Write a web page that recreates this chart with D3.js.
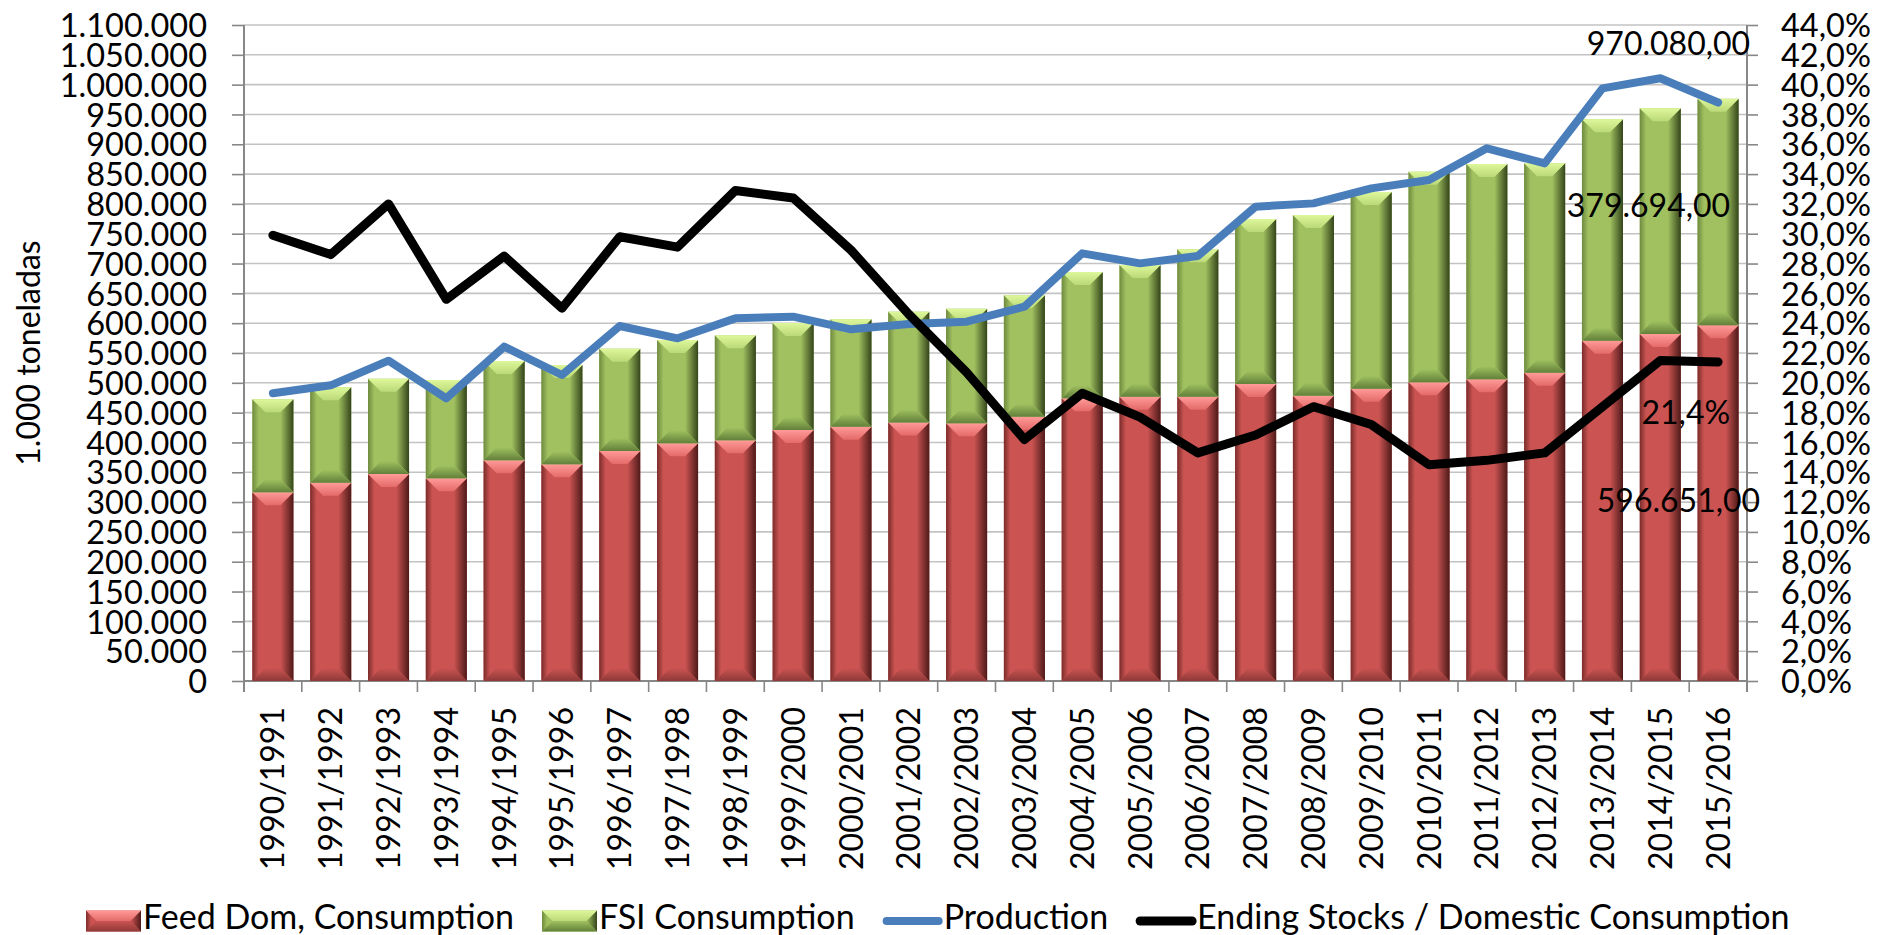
<!DOCTYPE html>
<html>
<head>
<meta charset="utf-8">
<script src="https://cdn.jsdelivr.net/npm/d3@7"></script>
<style>
body { margin: 0; background: #fff; }
svg { display: block; }
text { font-family: Lato, "Open Sans", sans-serif; fill: #000; }
</style>
</head>
<body>
<svg id="chart"></svg>
<script>
const W = 1878, H = 935

const categories = ["1990/1991", "1991/1992", "1992/1993", "1993/1994", "1994/1995", "1995/1996",
    "1996/1997", "1997/1998", "1998/1999", "1999/2000", "2000/2001", "2001/2002", "2002/2003",
    "2003/2004", "2004/2005", "2005/2006", "2006/2007", "2007/2008", "2008/2009", "2009/2010",
    "2010/2011", "2011/2012", "2012/2013", "2013/2014", "2014/2015", "2015/2016"]

// 1.000 toneladas
const feedDom = [316400, 332500, 347100, 339800, 370000, 363300, 385700, 398500, 403500, 420900,
    426500, 433500, 432100, 443200, 474000, 476800, 476800, 498000, 478400, 490200,
    501000, 505900, 517000, 570700, 581800, 596651]
const fsiCons = [156000, 160000, 159800, 164900, 166600, 166600, 171600, 173300, 176100, 179400,
    179900, 185800, 192200, 203500, 211800, 220700, 247000, 276700, 303000, 329800,
    353000, 361000, 351000, 371100, 378400, 379694]
const production = [482400, 495800, 537100, 474000, 560600, 513100, 595300, 574600, 608100, 610900,
    589700, 598600, 602500, 627600, 717100, 700300, 712600, 795400, 800900, 826100,
    840100, 893200, 868000, 993800, 1010600, 970080]
// ending stocks / domestic consumption
const stocksRatio = [0.299, 0.286, 0.320, 0.256, 0.285, 0.250, 0.298, 0.291, 0.329, 0.324,
    0.289, 0.246, 0.207, 0.162, 0.193, 0.177, 0.153, 0.165, 0.184, 0.172,
    0.145, 0.148, 0.153, 0.184, 0.215, 0.214]

const legendNames = ["Feed Dom, Consumption", "FSI Consumption", "Production", "Ending Stocks / Domestic Consumption"]

const margin = {left: 244, right: 131, top: 25, bottom: 254}

const loc = d3.formatLocale({decimal: ",", thousands: ".", grouping: [3], currency: ["", ""]})
const fmtInt = loc.format(",.0f")
const fmtDec = loc.format(",.2f")
const fmtPct = loc.format(".1%")

const svg = d3.select("#chart").attr("width", W).attr("height", H)
svg.append("rect").attr("width", W).attr("height", H).attr("fill", "#fff")

const x0 = margin.left, x1 = W - margin.right
const yTop = margin.top, yBot = H - margin.bottom

const x = d3.scaleBand().domain(categories).range([x0, x1]).paddingInner(0.29).paddingOuter(0.145)
const y = d3.scaleLinear().domain([0, 1100000]).range([yBot, yTop])
const y2 = d3.scaleLinear().domain([0, 0.44]).range([yBot, yTop])

const series = [
    {key: "feed", name: legendNames[0], base: "#CB5452", light: "#FF9A98", mid: "#E46B69", dark: "#4E1A19", bot: "#8E3937", edge: "#7A2C2B"},
    {key: "fsi", name: legendNames[1], base: "#A1C160", light: "#DDF79A", mid: "#BBD978", dark: "#34451B", bot: "#62803A", edge: "#6E8B3F"}
]

// gradients for the bevel look
const defs = svg.append("defs")
series.forEach(s => {
    const top = defs.append("linearGradient").attr("id", "top-" + s.key)
        .attr("x1", 0).attr("y1", 0).attr("x2", 0).attr("y2", 1)
    top.append("stop").attr("offset", 0).attr("stop-color", s.light)
    top.append("stop").attr("offset", 1).attr("stop-color", s.mid)

    const right = defs.append("linearGradient").attr("id", "right-" + s.key)
        .attr("x1", 0).attr("y1", 0).attr("x2", 1).attr("y2", 0)
    right.append("stop").attr("offset", 0).attr("stop-color", s.base)
    right.append("stop").attr("offset", 1).attr("stop-color", s.dark)

    const left = defs.append("linearGradient").attr("id", "left-" + s.key)
        .attr("x1", 0).attr("y1", 0).attr("x2", 1).attr("y2", 0)
    left.append("stop").attr("offset", 0).attr("stop-color", s.edge)
    left.append("stop").attr("offset", 0.5).attr("stop-color", s.base)
    left.append("stop").attr("offset", 1).attr("stop-color", s.base)

    const bot = defs.append("linearGradient").attr("id", "bot-" + s.key)
        .attr("x1", 0).attr("y1", 0).attr("x2", 0).attr("y2", 1)
    bot.append("stop").attr("offset", 0).attr("stop-color", s.base)
    bot.append("stop").attr("offset", 1).attr("stop-color", s.bot)
})

// grid
const ticksL = y.ticks(22)
svg.append("g").selectAll("line").data(ticksL).enter().append("line")
    .attr("x1", x0).attr("x2", x1)
    .attr("y1", d => y(d)).attr("y2", d => y(d))
    .attr("stroke", "#C3C3C3").attr("stroke-width", 1.6)

// left axis
const axL = svg.append("g").attr("transform", `translate(${x0},0)`)
    .call(d3.axisLeft(y).tickValues(ticksL).tickFormat(fmtInt).tickSize(12).tickPadding(25))
axL.select(".domain").remove()
axL.append("line").attr("x1", 0).attr("x2", 0).attr("y1", yTop).attr("y2", yBot + 11)
    .attr("stroke", "#878787").attr("stroke-width", 2)
axL.selectAll(".tick line").attr("stroke", "#878787").attr("stroke-width", 1.6)
axL.selectAll(".tick text").attr("font-size", 32.5).attr("dy", "0.36em")
    .style("font-family", "Lato, 'Open Sans', sans-serif")

// right axis
const axR = svg.append("g").attr("transform", `translate(${x1},0)`)
    .call(d3.axisRight(y2).tickValues(d3.range(0, 0.4401, 0.02)).tickFormat(fmtPct).tickSize(11).tickPadding(23))
axR.select(".domain").remove()
axR.append("line").attr("x1", 0).attr("x2", 0).attr("y1", yTop).attr("y2", yBot + 11)
    .attr("stroke", "#878787").attr("stroke-width", 2)
axR.selectAll(".tick line").attr("stroke", "#878787").attr("stroke-width", 1.6)
axR.selectAll(".tick text").attr("font-size", 32.5).attr("dy", "0.36em")
    .style("font-family", "Lato, 'Open Sans', sans-serif")

// bottom axis
const axB = svg.append("g").attr("transform", `translate(0,${yBot})`)
axB.append("line").attr("x1", x0).attr("x2", x1).attr("stroke", "#878787").attr("stroke-width", 2)
const bounds = categories.map(c => x(c) - x.step() * x.paddingInner() / 2).concat([x1])
axB.selectAll("line.tk").data(bounds).enter().append("line").attr("class", "tk")
    .attr("x1", d => d).attr("x2", d => d).attr("y1", 0).attr("y2", 11)
    .attr("stroke", "#878787").attr("stroke-width", 1.6)
axB.selectAll("text").data(categories).enter().append("text")
    .attr("transform", d => `translate(${x(d) + x.bandwidth() / 2},26) rotate(-90)`)
    .attr("text-anchor", "end").attr("dy", "0.36em")
    .attr("font-size", 32).text(d => d)

// stacked bars
const rows = categories.map((c, i) => ({cat: c, feed: feedDom[i], fsi: fsiCons[i]}))
const stacked = d3.stack().keys(series.map(s => s.key))(rows)

function pts(a) { return a.map(p => p.join(",")).join(" ") }

function bevelBar(g, bx, by, w, h, s) {
    const b = Math.min(13, w / 2, h / 2)
    g.append("rect").attr("x", bx).attr("y", by).attr("width", w).attr("height", h).attr("fill", s.base)
    g.append("polygon").attr("points", pts([[bx, by], [bx + b, by + b], [bx + b, by + h - b], [bx, by + h]]))
        .attr("fill", `url(#left-${s.key})`)
    g.append("polygon").attr("points", pts([[bx + w, by], [bx + w, by + h], [bx + w - b, by + h - b], [bx + w - b, by + b]]))
        .attr("fill", `url(#right-${s.key})`)
    g.append("polygon").attr("points", pts([[bx, by + h], [bx + w, by + h], [bx + w - b, by + h - b], [bx + b, by + h - b]]))
        .attr("fill", `url(#bot-${s.key})`)
    g.append("polygon").attr("points", pts([[bx, by], [bx + w, by], [bx + w - b, by + b], [bx + b, by + b]]))
        .attr("fill", `url(#top-${s.key})`)
}

const barG = svg.append("g")
stacked.forEach((layer, li) => {
    const s = series[li]
    layer.forEach(d => {
        const g = barG.append("g")
        bevelBar(g, x(d.data.cat), y(d[1]), x.bandwidth(), y(d[0]) - y(d[1]), s)
    })
})

// lines
const cx = c => x(c) + x.bandwidth() / 2
const prodLine = d3.line().x((d, i) => cx(categories[i])).y(d => y(d))
const stockLine = d3.line().x((d, i) => cx(categories[i])).y(d => y2(d))

svg.append("path").datum(production).attr("d", prodLine)
    .attr("fill", "none").attr("stroke", "#4A7EBB").attr("stroke-width", 8)
    .attr("stroke-linejoin", "round").attr("stroke-linecap", "round")
svg.append("path").datum(stocksRatio).attr("d", stockLine)
    .attr("fill", "none").attr("stroke", "#000").attr("stroke-width", 9)
    .attr("stroke-linejoin", "round").attr("stroke-linecap", "round")

// data labels on the last season
const last = categories.length - 1
const lc = cx(categories[last])
const lab = svg.append("g").attr("font-size", 32).attr("text-anchor", "end")
lab.append("text").attr("x", lc + 32).attr("y", y(production[last]) - 47).text(fmtDec(production[last]))
lab.append("text").attr("x", lc + 12).attr("y", y(feedDom[last] + fsiCons[last] / 2) + 5).text(fmtDec(fsiCons[last]))
lab.append("text").attr("x", lc + 12).attr("y", y2(stocksRatio[last]) + 62).text(fmtPct(stocksRatio[last]))
lab.append("text").attr("x", lc + 42).attr("y", y(feedDom[last] / 2) + 9).text(fmtDec(feedDom[last]))

// y title
svg.append("text").attr("transform", `translate(28,${(yTop + yBot) / 2}) rotate(-90)`)
    .attr("text-anchor", "middle").attr("dy", "0.36em").attr("font-size", 32).text("1.000 toneladas")

// legend
const legItems = [
    {type: "bar", s: series[0]},
    {type: "bar", s: series[1]},
    {type: "line", color: "#4A7EBB", name: legendNames[2], sw: 8},
    {type: "line", color: "#000", name: legendNames[3], sw: 9}
]
const leg = svg.append("g").attr("transform", "translate(0,921)")
let lx = 86
legItems.forEach(it => {
    if (it.type === "bar") {
        bevelBar(leg.append("g"), lx, -10.5, 55, 21, Object.assign({}, it.s))
        lx += 57
    } else {
        leg.append("line").attr("x1", lx + 4).attr("x2", lx + 56).attr("y1", 0).attr("y2", 0)
            .attr("stroke", it.color).attr("stroke-width", it.sw).attr("stroke-linecap", "round")
        lx += 61
    }
    const t = leg.append("text").attr("x", lx).attr("dy", 8).attr("font-size", 34)
        .text(it.type === "bar" ? it.s.name : it.name)
    lx += t.node().getComputedTextLength() + 28
})
</script>
</body>
</html>
